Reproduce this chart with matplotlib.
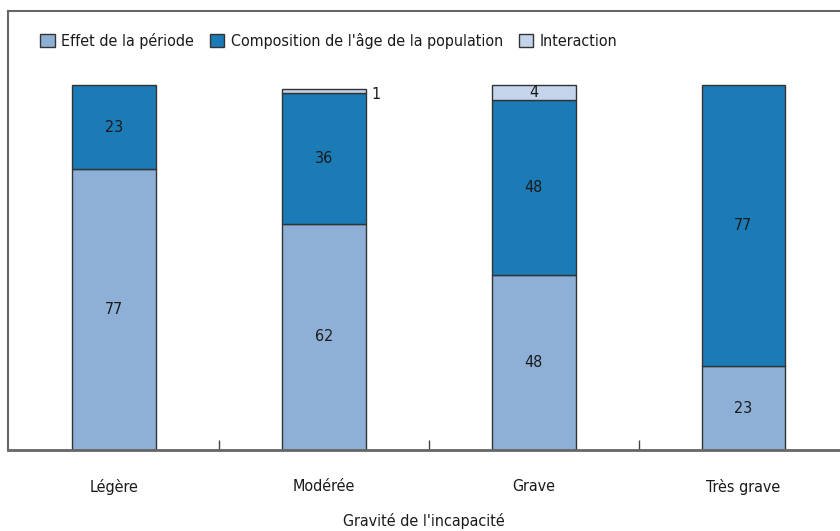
import matplotlib.pyplot as plt
import numpy as np

categories = ['Légère', 'Modérée', 'Grave', 'Très grave']
effet_periode = [77, 62, 48, 23]
composition_age = [23, 36, 48, 77]
interaction = [0, 1, 4, 0]
series_names = ['Effet de la période', "Composition de l'âge de la population", 'Interaction']
colors = ['#8fb0d6', '#1a7bb6', '#c4d4ea']

plt.rcParams['font.family'] = ['DejaVu Sans']
plt.rcParams['font.stretch'] = 'condensed'

fig = plt.figure(figsize=(8.4, 5.31), dpi=100)
ax = fig.add_axes([0.0095, 0.1525, 0.9905, 0.8265])

x = np.arange(len(categories))
w = 0.4
bottom = np.zeros(len(categories))
for vals, name, col in zip([effet_periode, composition_age, interaction], series_names, colors):
    vals = np.array(vals, dtype=float)
    mask = vals > 0
    ax.bar(x[mask], vals[mask], w, bottom=bottom[mask], color=col, edgecolor='#333333',
           linewidth=1.0, label=name)
    for xi, v, b in zip(x, vals, bottom):
        if v <= 0:
            continue
        if v < 2:
            ax.text(xi + w / 2 + 0.05, b + v - 1.6, f'{v:g}', ha='center', va='center',
                    fontsize=11.5, color='#1a1a1a')
        else:
            ax.text(xi, b + v / 2, f'{v:g}', ha='center', va='center',
                    fontsize=11.5, color='#1a1a1a')
    bottom += vals

ax.set_xlim(-0.505, 3.46)
ax.set_ylim(0, 120.3)
ax.set_yticks([])
ax.set_xticks(x)
ax.set_xticklabels(categories, fontsize=11.5, color='#1a1a1a')
ax.tick_params(axis='x', which='major', length=0, pad=21)
ax.set_xticks([0.5, 1.5, 2.5], minor=True)
ax.tick_params(axis='x', which='minor', direction='in', length=7, width=1, color='#444444')
ax.set_xlabel("Gravité de l'incapacité", fontsize=11.5, labelpad=13, color='#1a1a1a')

for s in ['left', 'top', 'bottom']:
    ax.spines[s].set_color('#666666')
    ax.spines[s].set_linewidth(1.5)
ax.spines['bottom'].set_linewidth(2)
ax.spines['right'].set_visible(False)

leg = ax.legend(loc='upper left', bbox_to_anchor=(0.031, 0.965), ncol=3, frameon=False,
                fontsize=11.5, handlelength=0.9, handleheight=0.9, handletextpad=0.4,
                columnspacing=1.0, borderaxespad=0)
for t in leg.get_texts():
    t.set_color('#1a1a1a')

fig.savefig('out.png', dpi=100)
